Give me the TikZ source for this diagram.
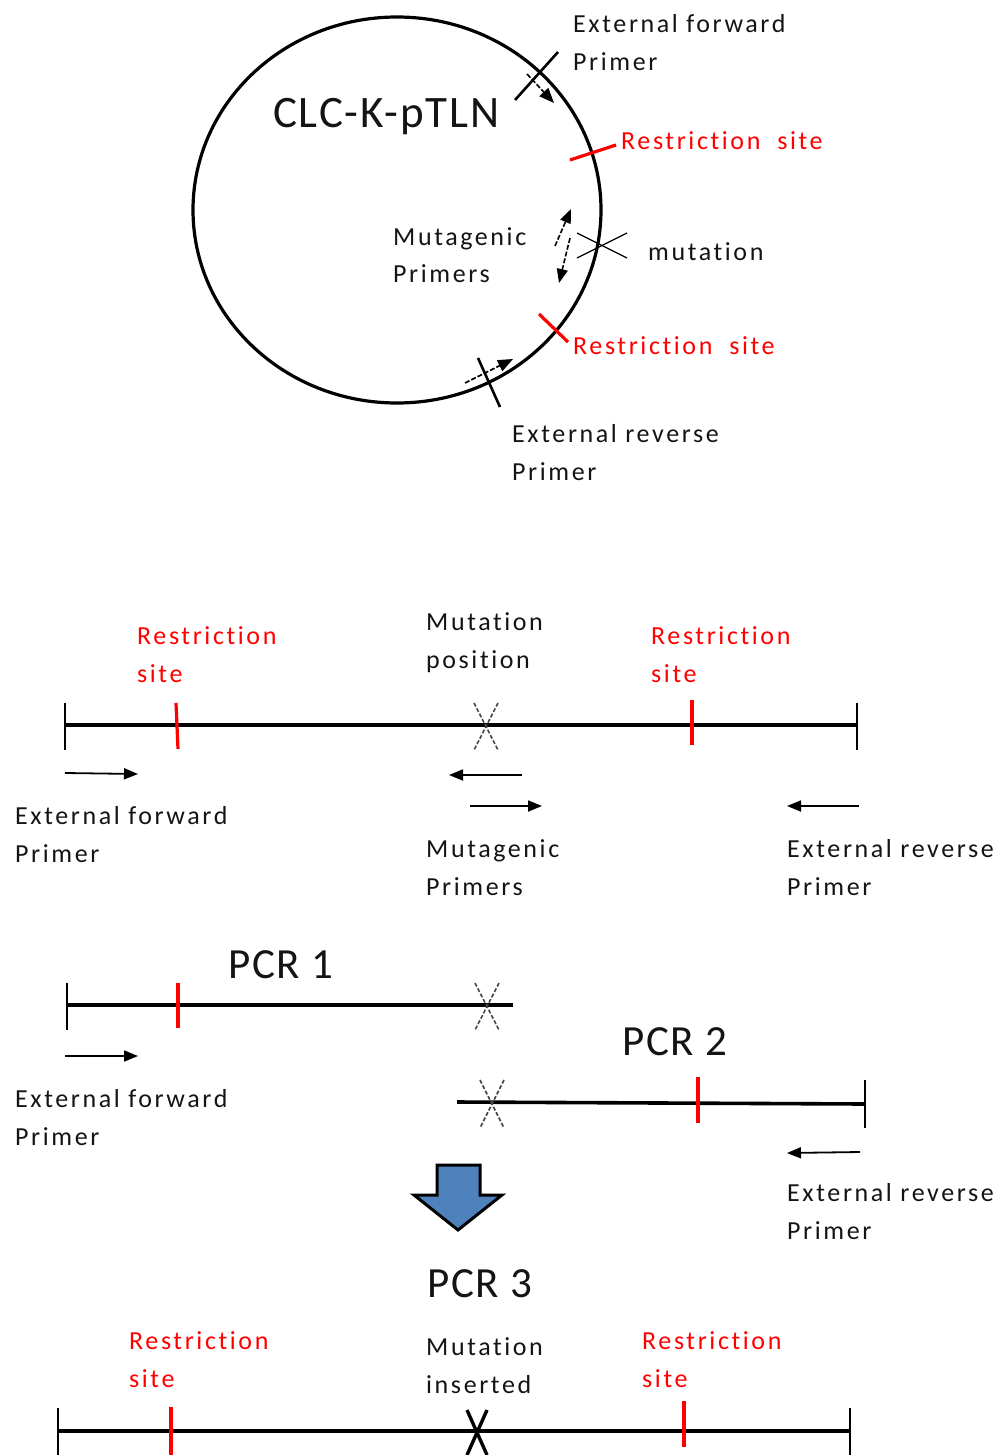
\documentclass[tikz,border=0pt]{standalone}
\usepackage{fontspec}
\setmainfont{Carlito}
\newfontfamily\lblfont[LetterSpace=10,Ligatures={NoCommon,NoRare}]{Carlito}
\newfontfamily\bigfont[LetterSpace=4,Ligatures={NoCommon,NoRare}]{Carlito}
\usetikzlibrary{arrows.meta,shapes.geometric}
\definecolor{blockblue}{RGB}{79,129,189}
\definecolor{txtblack}{RGB}{20,20,20}
\begin{document}
\begin{tikzpicture}[x=1pt,y=-1pt,
  lbl/.style={anchor=base west,inner sep=0pt,text=txtblack,font=\lblfont\fontsize{26}{30}\selectfont},
  redlbl/.style={lbl,text=red},
  big/.style={anchor=base west,inner sep=0pt,text=txtblack,font=\bigfont\fontsize{43}{48}\selectfont},
  dna/.style={line width=3.6pt},
  endtick/.style={line width=2pt},
  rsite/.style={red,line width=3.2pt},
  tick/.style={line width=2.6pt},
  prim/.style={line width=1.8pt,-{Triangle[length=14pt,width=11pt]}},
  dprim/.style={line width=1.6pt,dash pattern=on 5pt off 2pt,-{Triangle[length=15pt,width=12pt]}},
  mutx/.style={line width=1.6pt,gray!55!black,dash pattern=on 4pt off 2pt},
  mutc/.style={line width=1.2pt},
]
\useasboundingbox (0,0) rectangle (1006,1455);

% ---------------- Plasmid ----------------
\node[draw,line width=3.2pt,ellipse,minimum width=408pt,minimum height=386pt,inner sep=0pt] (plasmid) at (397,210) {};
\node[big,font=\bigfont\fontsize{45}{50}\selectfont] (clc) at (273,128) {CLC-K-pTLN};

% external forward primer
\coordinate (ef1) at (515,100); \coordinate (ef2) at (558,52);
\draw[tick] (ef1) -- (ef2);
\coordinate (efa) at (527,74); \coordinate (efb) at (554,103);
\draw[dprim] (efa) -- (efb);
\node[lbl] (eft1) at (573,33) {External forward};
\node[lbl] (eft2) at (573,71) {Primer};

% restriction site top
\coordinate (rt1) at (570,160); \coordinate (rt2) at (616,145);
\draw[rsite] (rt1) -- (rt2);
\node[redlbl] (rtt) at (621,150) {Restriction~ site};

% mutation
\coordinate (m1) at (577,233); \coordinate (m2) at (627,258);
\coordinate (m3) at (577,258); \coordinate (m4) at (627,233);
\draw[mutc] (m1) -- (m2); \draw[mutc] (m3) -- (m4);
\node[lbl] (mutt) at (648,260) {mutation};

% mutagenic primers
\coordinate (mp1) at (555,246); \coordinate (mp2) at (571,209);
\coordinate (mp3) at (570,238); \coordinate (mp4) at (559,283);
\draw[dprim,-{Triangle[length=14pt,width=11pt]}] (mp1) -- (mp2);
\draw[dprim,-{Triangle[length=14pt,width=11pt]}] (mp3) -- (mp4);
\node[lbl] (mpt1) at (393,245) {Mutagenic};
\node[lbl] (mpt2) at (393,282) {Primers};

% restriction site bottom
\coordinate (rb1) at (539,314); \coordinate (rb2) at (568,342);
\draw[rsite] (rb1) -- (rb2);
\node[redlbl] (rbt) at (573,354) {Restriction~ site};

% external reverse primer
\coordinate (er1) at (478,358); \coordinate (er2) at (500,407);
\draw[tick] (er1) -- (er2);
\coordinate (era) at (465,383); \coordinate (erb) at (513,359);
\draw[dprim] (era) -- (erb);
\node[lbl] (ert1) at (512,442) {External reverse};
\node[lbl] (ert2) at (512,480) {Primer};

% ---------------- Linear template ----------------
\coordinate (La) at (65,725); \coordinate (Lb) at (857,725);
\draw[dna] (La) -- (Lb);
\draw[endtick] (65,703) -- (65,750);
\draw[endtick] (857,703) -- (857,750);
\draw[rsite] (176,703) -- (178,749);
\draw[rsite] (692,700) -- (692,745);
\draw[mutx] (474,703) -- (498,750);
\draw[mutx] (498,703) -- (474,750);
\node[redlbl] (l1r1) at (137,644) {Restriction};
\node[redlbl] (l1r2) at (137,682) {site};
\node[lbl] (l1m1) at (426,630) {Mutation};
\node[lbl] (l1m2) at (426,668) {position};
\node[redlbl] (l1s1) at (651,644) {Restriction};
\node[redlbl] (l1s2) at (651,682) {site};

\coordinate (fa) at (65,773); \coordinate (fb) at (138,774);
\draw[prim] (fa) -- (fb);
\coordinate (mra) at (522,775); \coordinate (mrb) at (449,775);
\draw[prim] (mra) -- (mrb);
\coordinate (mfa) at (470,806); \coordinate (mfb) at (542,806);
\draw[prim] (mfa) -- (mfb);
\coordinate (rva) at (859,806); \coordinate (rvb) at (787,806);
\draw[prim] (rva) -- (rvb);
\node[lbl] (l1f1) at (15,824) {External forward};
\node[lbl] (l1f2) at (15,862) {Primer};
\node[lbl] (l1p1) at (426,857) {Mutagenic};
\node[lbl] (l1p2) at (426,895) {Primers};
\node[lbl] (l1e1) at (787,857) {External reverse};
\node[lbl] (l1e2) at (787,895) {Primer};

% ---------------- PCR 1 ----------------
\node[big] (pcr1) at (228,978) {PCR 1};
\draw[dna] (67,1005) -- (513,1005);
\draw[endtick] (67,983) -- (67,1030);
\draw[rsite] (178,983) -- (178,1028);
\draw[mutx] (475,983) -- (499,1030);
\draw[mutx] (499,983) -- (475,1030);
\coordinate (p1a) at (65,1056); \coordinate (p1b) at (138,1056);
\draw[prim] (p1a) -- (p1b);
\node[lbl] (p1f1) at (15,1107) {External forward};
\node[lbl] (p1f2) at (15,1145) {Primer};

% ---------------- PCR 2 ----------------
\node[big] (pcr2) at (622,1055) {PCR 2};
\draw[dna] (457,1102) -- (865,1104);
\draw[endtick] (865,1080) -- (865,1128);
\draw[rsite] (698,1077) -- (698,1123);
\draw[mutx] (480,1080) -- (504,1128);
\draw[mutx] (504,1080) -- (480,1128);
\coordinate (p2a) at (860,1152); \coordinate (p2b) at (787,1153);
\draw[prim] (p2a) -- (p2b);
\node[lbl] (p2e1) at (787,1201) {External reverse};
\node[lbl] (p2e2) at (787,1239) {Primer};

% ---------------- block arrow ----------------
\draw[line width=3pt,fill=blockblue,line join=miter]
  (437,1165) -- (480,1165) -- (480,1195) -- (502,1195) -- (458,1230)
  -- (414,1195) -- (437,1195) -- cycle;

% ---------------- PCR 3 ----------------
\node[big] (pcr3) at (427,1297) {PCR 3};
\node[redlbl] (l3r1) at (129,1349) {Restriction};
\node[redlbl] (l3r2) at (129,1387) {site};
\node[lbl] (l3m1) at (426,1355) {Mutation};
\node[lbl] (l3m2) at (426,1393) {inserted};
\node[redlbl] (l3s1) at (642,1349) {Restriction};
\node[redlbl] (l3s2) at (642,1387) {site};
\draw[dna] (58,1431) -- (850,1431);
\draw[endtick] (58,1408) -- (58,1458);
\draw[endtick] (850,1408) -- (850,1458);
\draw[rsite] (171,1407) -- (171,1458);
\draw[rsite] (684,1401) -- (684,1447);
\draw[line width=3.4pt] (467,1410) -- (487,1455);
\draw[line width=3.4pt] (487,1410) -- (467,1455);
\end{tikzpicture}
\end{document}
